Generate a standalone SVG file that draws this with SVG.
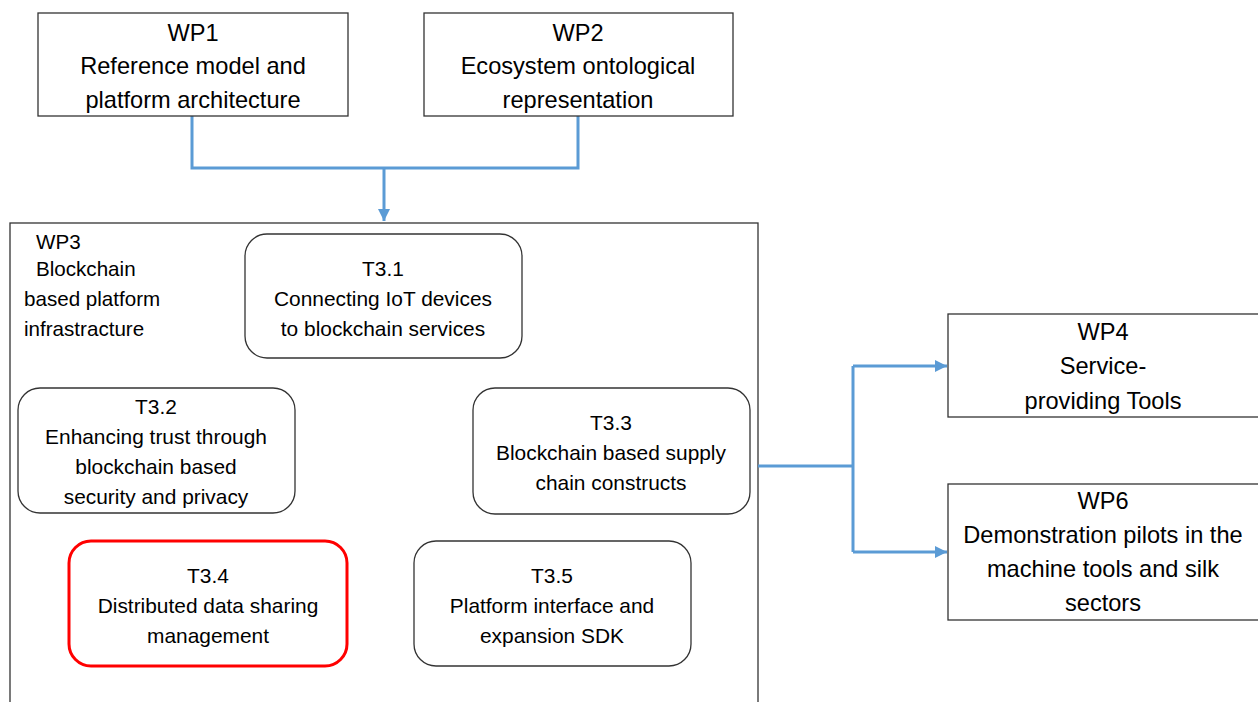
<svg xmlns="http://www.w3.org/2000/svg" width="1258" height="702" viewBox="0 0 1258 702">
<style>
.box{fill:#fff;stroke:#333;stroke-width:1.3}
.task{fill:#fff;stroke:#333;stroke-width:1.3}
.red{fill:#fff;stroke:#ff0000;stroke-width:3}
.conn{fill:none;stroke:#5b9bd5;stroke-width:3}
text{font-family:"Liberation Sans",Arial,sans-serif;fill:#000}
.wp{font-size:23.6px;text-anchor:middle}
.t{font-size:20.9px;text-anchor:middle}
.lbl{font-size:20.6px}
</style>
<defs>
<marker id="ah" viewBox="0 0 10 10" refX="10" refY="5" markerWidth="4" markerHeight="4" markerUnits="strokeWidth" orient="auto">
<path d="M0,0 L10,5 L0,10 z" fill="#5b9bd5"/>
</marker>
</defs>
<rect width="1258" height="702" fill="#fff"/>
<g id="wp3">
<rect class="box" x="10" y="223" width="748" height="500"/>
<text class="lbl" x="36" y="249">WP3</text>
<text class="lbl" x="36" y="276">Blockchain</text>
<text class="lbl" x="24" y="306">based platform</text>
<text class="lbl" x="24" y="336">infrastracture</text>
</g>
<g id="connectors">
<path class="conn" d="M192,116 V168 H578 V116"/>
<path class="conn" d="M384,168 V221" marker-end="url(#ah)"/>
<path class="conn" d="M758,466 H853"/>
<path class="conn" d="M853,366 V552"/>
<path class="conn" d="M853,366 H947" marker-end="url(#ah)"/>
<path class="conn" d="M853,552 H947" marker-end="url(#ah)"/>
</g>
<g id="wp1">
<rect class="box" x="38" y="13" width="310" height="103"/>
<text class="wp" x="193" y="41">WP1</text>
<text class="wp" x="193" y="74">Reference model and</text>
<text class="wp" x="193" y="108">platform architecture</text>
</g>
<g id="wp2">
<rect class="box" x="424" y="13" width="309" height="103"/>
<text class="wp" x="578" y="41">WP2</text>
<text class="wp" x="578" y="74">Ecosystem ontological</text>
<text class="wp" x="578" y="108">representation</text>
</g>
<g id="t31">
<rect class="task" x="245" y="234" width="277" height="124" rx="22"/>
<text class="t" x="383" y="276">T3.1</text>
<text class="t" x="383" y="306">Connecting IoT devices</text>
<text class="t" x="383" y="336">to blockchain services</text>
</g>
<g id="t32">
<rect class="task" x="18" y="388" width="277" height="125" rx="22"/>
<text class="t" x="156" y="414">T3.2</text>
<text class="t" x="156" y="444">Enhancing trust through</text>
<text class="t" x="156" y="474">blockchain based</text>
<text class="t" x="156" y="504">security and privacy</text>
</g>
<g id="t33">
<rect class="task" x="473" y="388" width="277" height="126" rx="22"/>
<text class="t" x="611" y="430">T3.3</text>
<text class="t" x="611" y="460">Blockchain based supply</text>
<text class="t" x="611" y="490">chain constructs</text>
</g>
<g id="t34">
<rect class="red" x="69" y="541" width="278" height="125" rx="22"/>
<text class="t" x="208" y="583">T3.4</text>
<text class="t" x="208" y="613">Distributed data sharing</text>
<text class="t" x="208" y="643">management</text>
</g>
<g id="t35">
<rect class="task" x="414" y="541" width="277" height="125" rx="22"/>
<text class="t" x="552" y="583">T3.5</text>
<text class="t" x="552" y="613">Platform interface and</text>
<text class="t" x="552" y="643">expansion SDK</text>
</g>
<g id="wp4">
<rect class="box" x="948" y="314" width="318" height="103"/>
<text class="wp" x="1103" y="340">WP4</text>
<text class="wp" x="1103" y="374">Service-</text>
<text class="wp" x="1103" y="409">providing Tools</text>
</g>
<g id="wp6">
<rect class="box" x="948" y="484" width="318" height="136"/>
<text class="wp" x="1103" y="509">WP6</text>
<text class="wp" x="1103" y="543">Demonstration pilots in the</text>
<text class="wp" x="1103" y="577">machine tools and silk</text>
<text class="wp" x="1103" y="611">sectors</text>
</g>
</svg>
